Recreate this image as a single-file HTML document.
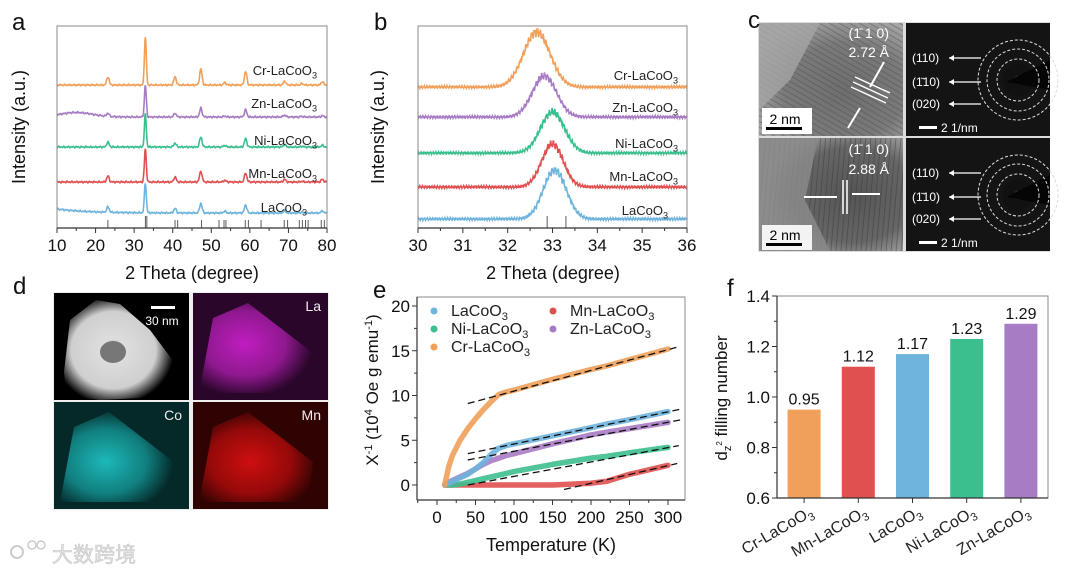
<!DOCTYPE html>
<html><head><meta charset="utf-8">
<style>
html,body{margin:0;padding:0;background:#fff;}
svg{display:block;font-family:"Liberation Sans","Noto Sans CJK SC",sans-serif;}
</style></head>
<body>
<svg id="fig" width="1080" height="575" viewBox="0 0 1080 575" xmlns="http://www.w3.org/2000/svg">
<defs>
<radialGradient id="gHR1" cx="0.6" cy="0.6" r="0.7"><stop offset="0" stop-color="#6e6e6e"/><stop offset="0.6" stop-color="#7a7a7a"/><stop offset="1" stop-color="#a8a8a8"/></radialGradient>
<radialGradient id="gHR2" cx="0.65" cy="0.5" r="0.6"><stop offset="0" stop-color="#555"/><stop offset="0.7" stop-color="#666"/><stop offset="1" stop-color="#999"/></radialGradient>
<pattern id="lat1" width="5" height="5" patternUnits="userSpaceOnUse" patternTransform="rotate(30)"><rect width="5" height="5" fill="none"/><line x1="0" y1="0" x2="5" y2="0" stroke="#444" stroke-width="1.5" opacity="0.5"/></pattern>
<pattern id="lat2" width="5" height="5" patternUnits="userSpaceOnUse" patternTransform="rotate(95)"><line x1="0" y1="0" x2="5" y2="0" stroke="#333" stroke-width="1.6" opacity="0.5"/></pattern>
<radialGradient id="gHAADF" cx="0.45" cy="0.5" r="0.55"><stop offset="0" stop-color="#888"/><stop offset="0.2" stop-color="#ddd"/><stop offset="0.7" stop-color="#cfcfcf"/><stop offset="1" stop-color="#000"/></radialGradient>
<radialGradient id="gLa" cx="0.4" cy="0.45" r="0.6"><stop offset="0" stop-color="#d020d0"/><stop offset="0.6" stop-color="#9a1a9a"/><stop offset="1" stop-color="#2a062a"/></radialGradient>
<radialGradient id="gCo" cx="0.4" cy="0.55" r="0.6"><stop offset="0" stop-color="#20c8c8"/><stop offset="0.6" stop-color="#128888"/><stop offset="1" stop-color="#052828"/></radialGradient>
<radialGradient id="gMn" cx="0.45" cy="0.55" r="0.6"><stop offset="0" stop-color="#e01010"/><stop offset="0.6" stop-color="#a00a0a"/><stop offset="1" stop-color="#300303"/></radialGradient>
<radialGradient id="gSAED" cx="0.5" cy="0.5" r="0.15"><stop offset="0" stop-color="#ddd"/><stop offset="1" stop-color="#111"/></radialGradient>
</defs>
<g id="root"></g>
</svg>
<script>
// ---------- data ----------
var xrdSamples = ["Cr-LaCoO3","Zn-LaCoO3","Ni-LaCoO3","Mn-LaCoO3","LaCoO3"];
var xrdPeakPos = [23.2, 32.9, 40.6, 47.3, 53.5, 58.9, 69.0, 73.5, 78.8];
var xrdPeakHtCr = [0.17, 1.0, 0.17, 0.33, 0.05, 0.28, 0.08, 0.03, 0.07];
var xrdPeakHtZn = [0.10, 1.0, 0.12, 0.27, 0.03, 0.22, 0.06, 0.02, 0.04];
var xrdPeakHtNi = [0.15, 1.0, 0.12, 0.30, 0.05, 0.25, 0.07, 0.02, 0.05];
var xrdPeakHtMn = [0.18, 1.0, 0.15, 0.33, 0.05, 0.27, 0.08, 0.02, 0.08];
var xrdPeakHtLa = [0.18, 1.0, 0.15, 0.32, 0.06, 0.27, 0.08, 0.03, 0.07];
var xrdRefLines = [23.2,32.9,33.3,40.6,41.3,47.5,52.0,53.3,53.8,58.8,59.6,62.9,68.9,69.8,72.8,73.6,74.4,75.1,78.5,79.3];
var xrdTicks = [10,20,30,40,50,60,70,80];

var bSamples = ["Cr-LaCoO3","Zn-LaCoO3","Ni-LaCoO3","Mn-LaCoO3","LaCoO3"];
var bCenter = [32.65, 32.82, 33.0, 33.0, 33.05];
var bHeight = [55, 41, 41, 43, 49];
var bWidth = [0.42, 0.38, 0.38, 0.34, 0.36];
var bTicks = [30,31,32,33,34,35,36];
var bRef = [32.88, 33.3];

var magT = [10,15,20,30,40,50,60,70,80,90,100,150,200,220,250,300];
var magCr = [0,2.0,3.3,5.0,6.3,7.4,8.4,9.3,10.1,10.4,10.6,11.8,12.9,13.3,14.0,15.2];
var magLa = [0,0.2,0.4,0.8,1.2,1.8,2.5,3.4,4.1,4.4,4.6,5.5,6.4,6.8,7.3,8.2];
var magZn = [0,0.3,0.5,0.9,1.3,1.8,2.3,2.7,3.0,3.3,3.5,4.6,5.6,5.9,6.3,7.0];
var magNi = [0,0,0,0.1,0.3,0.5,0.7,0.9,1.1,1.3,1.5,2.3,3.0,3.2,3.6,4.2];
var magMn = [0,0,0,0,0,0,0,0,0,0,0,0,0.2,0.4,1.2,2.2];
var magFits = [[40,9.1,312,15.4],[40,3.5,318,8.5],[40,2.8,318,7.3],[40,0.0,314,4.4],[165,-0.5,312,2.4]];
var magXTicks = [0,50,100,150,200,250,300];
var magYTicks = [0,5,10,15,20];

var fillCats = ["Cr-LaCoO3","Mn-LaCoO3","LaCoO3","Ni-LaCoO3","Zn-LaCoO3"];
var fillVals = [0.95, 1.12, 1.17, 1.23, 1.29];
var fillLabels = ["0.95","1.12","1.17","1.23","1.29"];
var fillYTicks = [0.6,0.8,1.0,1.2,1.4];

// ---------- helpers ----------
var NS = "http://www.w3.org/2000/svg";
var root = document.getElementById("root");
function mk(tag, attrs, parent){
  var e = document.createElementNS(NS, tag);
  for (var k in attrs) e.setAttribute(k, attrs[k]);
  (parent||root).appendChild(e);
  return e;
}
var C = {Cr:"#f0a05a", Zn:"#a87cc4", Ni:"#3cbf8e", Mn:"#e05050", La:"#6eb4dc"};
var colsA = [C.Cr, C.Zn, C.Ni, C.Mn, C.La];
function chemLabel(parent, x, y, name, size, anchor){
  var t = mk("text",{x:x,y:y,"font-size":size,"text-anchor":anchor||"start",fill:"#222"},parent);
  var base = name.replace(/3$/,"");
  var m = mk("tspan",{},t); m.textContent = base;
  var s = mk("tspan",{dy:(size*0.25).toFixed(1),"font-size":(size*0.7).toFixed(1)},t);
  s.textContent = "3";
  return t;
}
function letter(ch, x, y){
  var t = mk("text",{x:x,y:y,"font-size":24,fill:"#111"});
  t.textContent = ch;
  
  
}

// ---------- panel a ----------
(function(){
  var g = mk("g",{});
  
  
  var X0=57,X1=327,Y0=26,Y1=228;
  function sx(v){return X0+(v-10)/70*(X1-X0);}
  var base=[85,117,147,182,213];
  var amp=[48,32,33,33,30];
  var hts=[xrdPeakHtCr,xrdPeakHtZn,xrdPeakHtNi,xrdPeakHtMn,xrdPeakHtLa];
  for (var i=0;i<5;i++){
    var d="";
    for (var v=10; v<=80; v+=0.1){
      var y=base[i] - 0.5*Math.sin(v*53+i*2) - 0.4*Math.sin(v*131+i);
      if(i==1){ y -= 4.5*Math.exp(-Math.pow((v-15)/6,2)); }
      if(i==4){ y -= 4*Math.exp(-(v-10)/8); }
      for (var p=0;p<xrdPeakPos.length;p++){
        var w = p==1?0.35:0.45;
        y -= amp[i]*hts[i][p]*Math.exp(-Math.pow((v-xrdPeakPos[p])/w,2));
      }
      d += (d?"L":"M")+sx(v).toFixed(1)+","+y.toFixed(1);
    }
    var path = mk("path",{d:d,fill:"none",stroke:colsA[i],"stroke-width":1.6},g);
    
    
  }
  var lx=[317,317,317,317,307], ly=[75,108,145,178,212];
  for (var i=0;i<5;i++){
    var t=chemLabel(g,lx[i],ly[i],xrdSamples[i],13,"end");
    
    
  }
  for (var r=0;r<xrdRefLines.length;r++){
    var ln = mk("line",{x1:sx(xrdRefLines[r]),x2:sx(xrdRefLines[r]),y1:(xrdRefLines[r]<34&&xrdRefLines[r]>32?216:220),y2:Y1,stroke:"#333","stroke-width":0.8},g);
    
    
  }
  var box = mk("rect",{x:X0,y:Y0,width:X1-X0,height:Y1-Y0,fill:"none",stroke:"#888","stroke-width":1},g);
  
  
  mk("line",{x1:X0,x2:X1,y1:Y1,y2:Y1,stroke:"#333","stroke-width":1.2},g);
  for (var v=10; v<=80; v+=5){
    mk("line",{x1:sx(v),x2:sx(v),y1:Y1,y2:Y1+(v%10==0?5:3),stroke:"#333","stroke-width":1},g);
  }
  for (var k=0;k<xrdTicks.length;k++){
    var t=mk("text",{x:sx(xrdTicks[k]),y:251,"font-size":17,"text-anchor":"middle",fill:"#111"},g);
    t.textContent=xrdTicks[k];
    
    
  }
  var xt=mk("text",{x:192,y:279,"font-size":18,"text-anchor":"middle",fill:"#111"},g);
  xt.textContent="2 Theta (degree)";
  
  
  var yt=mk("text",{x:0,y:0,"font-size":18,"text-anchor":"middle",fill:"#111",transform:"translate(25,127) rotate(-90)"},g);
  yt.textContent="Intensity (a.u.)";
  
  
})();

// ---------- panel b ----------
(function(){
  var g = mk("g",{});
  
  
  var X0=418,X1=687,Y0=26,Y1=228;
  function sx(v){return X0+(v-30)/6*(X1-X0);}
  var base=[87,117,153,187,219];
  for (var i=0;i<5;i++){
    var d="";
    for (var v=30; v<=36; v+=0.01){
      var z=(v-bCenter[i])/bWidth[i];
      var pk=bHeight[i]*Math.exp(-z*z);
      var y=base[i]-pk - (0.7+pk*0.04)*Math.sin(v*97+i*3)-(0.6+pk*0.03)*Math.sin(v*211+i);
      d += (d?"L":"M")+sx(v).toFixed(1)+","+y.toFixed(1);
    }
    var path=mk("path",{d:d,fill:"none",stroke:colsA[i],"stroke-width":1.6},g);
    
    
  }
  var lx=[678,678,678,678,668], ly=[80,112,148,181,215];
  for (var i=0;i<5;i++){
    var t=chemLabel(g,lx[i],ly[i],bSamples[i],13,"end");
    
    
  }
  for (var r=0;r<bRef.length;r++){
    var ln=mk("line",{x1:sx(bRef[r]),x2:sx(bRef[r]),y1:216,y2:Y1,stroke:"#333","stroke-width":0.8},g);
    
    
  }
  var box=mk("rect",{x:X0,y:Y0,width:X1-X0,height:Y1-Y0,fill:"none",stroke:"#888","stroke-width":1},g);
  
  
  mk("line",{x1:X0,x2:X1,y1:Y1,y2:Y1,stroke:"#333","stroke-width":1.2},g);
  for (var v=30; v<=36; v+=0.5){
    mk("line",{x1:sx(v),x2:sx(v),y1:Y1,y2:Y1+(v%1==0?5:3),stroke:"#333","stroke-width":1},g);
  }
  for (var k=0;k<bTicks.length;k++){
    var t=mk("text",{x:sx(bTicks[k]),y:251,"font-size":17,"text-anchor":"middle",fill:"#111"},g);
    t.textContent=bTicks[k];
    
    
  }
  var xt=mk("text",{x:553,y:279,"font-size":18,"text-anchor":"middle",fill:"#111"},g);
  xt.textContent="2 Theta (degree)";
  
  
  var yt=mk("text",{x:0,y:0,"font-size":18,"text-anchor":"middle",fill:"#111",transform:"translate(384,127) rotate(-90)"},g);
  yt.textContent="Intensity (a.u.)";
  
  
})();

// ---------- panel c ----------
(function(){
  var g = mk("g",{});
  
  
  mk("rect",{x:758,y:22,width:292,height:230,fill:"#ddd"},g);
  var panels=[[759,23,144,113],[759,138,144,113]];
  for (var i=0;i<2;i++){
    var p=panels[i];
    var r=mk("rect",{x:p[0],y:p[1],width:p[2],height:p[3],fill:i?"url(#gHR2)":"url(#gHR1)"},g);
    
    
    mk("rect",{x:p[0],y:p[1],width:p[2],height:p[3],fill:i?"url(#lat2)":"url(#lat1)"},g);
  }
  mk("polygon",{points:"759,23 820,23 790,80 759,110",fill:"#a5a5a5",opacity:0.8},g);
  mk("polygon",{points:"759,138 818,138 805,200 830,251 759,251",fill:"#8a8a8a",opacity:0.85},g);
  var texts=[["(1\u0304 1 0)",889,38],["2.72 Å",889,57],["(1\u0304 1 0)",889,154],["2.88 Å",889,174]];
  for (var k=0;k<texts.length;k++){
    var t=mk("text",{x:texts[k][1],y:texts[k][2],"font-size":14,"text-anchor":"end",fill:"#fff"},g);
    t.textContent=texts[k][0];
    
    
  }
  mk("path",{d:"M851,87 L886,103 M853,82 L888,98 M855,77 L890,93",stroke:"#fff","stroke-width":1.5},g);
  mk("path",{d:"M884,62 L870,87 M848,128 L860,108",stroke:"#fff","stroke-width":2},g);
  mk("path",{d:"M843,180 L843,214 M847,180 L847,214",stroke:"#fff","stroke-width":1.5},g);
  mk("path",{d:"M804,197 L837,197 M880,194 L852,194",stroke:"#fff","stroke-width":2},g);
  mk("rect",{x:762,y:108,width:50,height:26,fill:"#fff"},g);
  mk("rect",{x:762,y:225,width:50,height:25,fill:"#fff",opacity:0.9},g);
  var sb=[[785,124,"2 nm"],[785,240,"2 nm"]];
  for (var k=0;k<2;k++){
    var t=mk("text",{x:sb[k][0],y:sb[k][1],"font-size":14,"text-anchor":"middle",fill:"#000"},g);
    t.textContent=sb[k][2];
    
    
    mk("rect",{x:766,y:sb[k][1]+3,width:36,height:3,fill:"#000"},g);
  }
  var sp=[[906,23,144,113],[906,138,144,113]];
  for (var i=0;i<2;i++){
    var p=sp[i];
    var r=mk("rect",{x:p[0],y:p[1],width:p[2],height:p[3],fill:"#141414"},g);
    
    
    var cx=p[0]+112, cy=p[1]+57;
    mk("circle",{cx:cx,cy:cy,r:16,fill:"url(#gSAED)"},g);
    mk("polygon",{points:(cx-12)+","+(cy+2)+" "+(p[0]+144)+","+(cy-20)+" "+(p[0]+144)+","+(cy+10),fill:"#050505"},g);
    [21,31,40].forEach(function(rr){
      mk("circle",{cx:cx,cy:cy,r:rr,fill:"none",stroke:"#ddd","stroke-width":1,"stroke-dasharray":"3,2"},g);
    });
    var lab=["(110)","(\u0031\u030410)","(020)"];
    var ys=[p[1]+39,p[1]+63,p[1]+85];
    for (var k=0;k<3;k++){
      var t=mk("text",{x:p[0]+6,y:ys[k],"font-size":12,fill:"#fff"},g);
      t.textContent=lab[k];
      
      
      mk("line",{x1:p[0]+43,x2:p[0]+75,y1:ys[k]-4,y2:ys[k]-4,stroke:"#fff","stroke-width":1.2},g);
      mk("path",{d:"M"+(p[0]+43)+","+(ys[k]-4)+" l5,-3 l0,6 z",fill:"#fff"},g);
    }
    mk("rect",{x:p[0]+13,y:p[1]+103,width:18,height:3,fill:"#fff"},g);
    var t2=mk("text",{x:p[0]+35,y:p[1]+109,"font-size":12,fill:"#fff"},g);
    t2.textContent="2 1/nm";
    
    
  }
})();

// ---------- panel d ----------
(function(){
  var g = mk("g",{});
  
  
  mk("rect",{x:53,y:292,width:276,height:218,fill:"#eee"},g);
  var tiles=[[54,293,"#000","HAADF"],[193,293,"url(#gLa)","La"],[54,402,"url(#gCo)","Co"],[193,402,"url(#gMn)","Mn"]];
  var bg=["#000","#2a062a","#052828","#300303"];
  for (var i=0;i<4;i++){
    var t=tiles[i];
    var r=mk("rect",{x:t[0],y:t[1],width:135,height:107,fill:bg[i]},g);
    
    
    if(i==0){
      mk("path",{d:"M64,372 L70,320 L96,300 L120,304 L150,330 L174,362 L168,390 L140,398 L100,400 L66,396 Z",fill:"url(#gHAADF)"},g);
      mk("ellipse",{cx:113,cy:352,rx:13,ry:11,fill:"#777"},g);
    } else {
      mk("path",{d:"M"+(t[0]+6)+","+(t[1]+100)+" L"+(t[0]+20)+","+(t[1]+25)+" L"+(t[0]+55)+","+(t[1]+10)+" L"+(t[0]+120)+","+(t[1]+60)+" L"+(t[0]+115)+","+(t[1]+100)+" Z",fill:t[2],opacity:0.9},g);
      var lb=mk("text",{x:t[0]+128,y:t[1]+18,"font-size":14,"text-anchor":"end",fill:"#eee"},g);
      lb.textContent=t[3];
      
      
    }
  }
  mk("rect",{x:151,y:306,width:24,height:3,fill:"#fff"},g);
  var s=mk("text",{x:162,y:325,"font-size":12,"text-anchor":"middle",fill:"#fff"},g);
  s.textContent="30 nm";
  
  
})();

// ---------- panel e ----------
(function(){
  var g = mk("g",{});
  
  
  var X0=417,X1=685,Y0=297,Y1=500;
  function sx(v){return 437+v/300*(668-437);}
  function sy(v){return 485-v/20*(485-306);}
  var series=[["Cr",magCr,C.Cr],["La",magLa,C.La],["Zn",magZn,C.Zn],["Ni",magNi,C.Ni],["Mn",magMn,C.Mn]];
  var order=[4,3,2,1,0];
  for (var o=0;o<order.length;o++){
    var s=series[order[o]];
    var d="";
    for (var i=0;i<magT.length;i++) d+=(i?"L":"M")+sx(magT[i]).toFixed(1)+","+sy(s[1][i]).toFixed(1);
    var p=mk("path",{d:d,fill:"none",stroke:s[2],"stroke-width":5.5,"stroke-linejoin":"round","stroke-linecap":"round",opacity:0.9},g);
    
    
  }
  for (var f=0;f<magFits.length;f++){
    var m=magFits[f];
    var l=mk("line",{x1:sx(m[0]),y1:sy(m[1]),x2:sx(m[2]),y2:sy(m[3]),stroke:"#111","stroke-width":1.3,"stroke-dasharray":"7,4"},g);
    
    
  }
  var box=mk("rect",{x:X0,y:Y0,width:X1-X0,height:Y1-Y0,fill:"none",stroke:"#888","stroke-width":1},g);
  
  
  mk("line",{x1:X0,x2:X1,y1:Y1,y2:Y1,stroke:"#333","stroke-width":1.2},g);
  mk("line",{x1:X0,x2:X0,y1:Y0,y2:Y1,stroke:"#333","stroke-width":1.2},g);
  for (var v=-25; v<=325; v+=25){
    var xx=sx(v); if(xx<X0||xx>X1) continue;
    mk("line",{x1:xx,x2:xx,y1:Y1,y2:Y1+(v%50==0?5:3),stroke:"#333","stroke-width":1},g);
  }
  for (var v=0; v<=20; v+=2.5){
    mk("line",{x1:X0,x2:X0-(v%5==0?5:3),y1:sy(v),y2:sy(v),stroke:"#333","stroke-width":1},g);
  }
  for (var k=0;k<magXTicks.length;k++){
    var t=mk("text",{x:sx(magXTicks[k]),y:523,"font-size":17,"text-anchor":"middle",fill:"#111"},g);
    t.textContent=magXTicks[k];
    
    
  }
  for (var k=0;k<magYTicks.length;k++){
    var t=mk("text",{x:410,y:sy(magYTicks[k])+6,"font-size":17,"text-anchor":"end",fill:"#111"},g);
    t.textContent=magYTicks[k];
    
    
  }
  var xt=mk("text",{x:551,y:551,"font-size":18,"text-anchor":"middle",fill:"#111"},g);
  xt.textContent="Temperature (K)";
  
  
  var yt=mk("text",{x:0,y:0,"font-size":17,"text-anchor":"middle",fill:"#111",transform:"translate(378,390) rotate(-90)"},g);
  var parts=[["X",0,17],["-1",-6,11],[" (10",6,17],["4",-6,11],[" Oe g emu",6,17],["-1",-6,11],[")",6,17]];
  for (var k=0;k<parts.length;k++){
    var sp=mk("tspan",{dy:parts[k][1],"font-size":parts[k][2]},yt);
    sp.textContent=parts[k][0];
  }
  
  
  var leg=[["LaCoO3",C.La,434,311],["Mn-LaCoO3",C.Mn,553,311],["Ni-LaCoO3",C.Ni,434,329],["Zn-LaCoO3",C.Zn,553,329],["Cr-LaCoO3",C.Cr,434,347]];
  for (var k=0;k<leg.length;k++){
    var L=leg[k];
    var cc=mk("circle",{cx:L[2],cy:L[3],r:3.5,fill:L[1]},g);
    
    
    var t=chemLabel(g,L[2]+17,L[3]+5,L[0],16,"start");
    
    
  }
})();

// ---------- panel f ----------
(function(){
  var g = mk("g",{});
  
  
  var X0=777,X1=1048,Y0=296,Y1=498;
  function sy(v){return Y1-(v-0.6)/0.8*(Y1-Y0);}
  var bw=(X1-X0)/5, cols=[C.Cr,C.Mn,C.La,C.Ni,C.Zn];
  for (var i=0;i<fillVals.length;i++){
    var cx=X0+bw*(i+0.5);
    var r=mk("rect",{x:cx-16.5,y:sy(fillVals[i]),width:33,height:Y1-sy(fillVals[i]),fill:cols[i]},g);
    
    
    var t=mk("text",{x:cx,y:sy(fillVals[i])-5,"font-size":16,"text-anchor":"middle",fill:"#111"},g);
    t.textContent=fillLabels[i];
    
    
    mk("line",{x1:cx,x2:cx,y1:Y1,y2:Y1+5,stroke:"#333","stroke-width":1},g);
    var lb=chemLabel(g,0,0,fillCats[i],16,"end");
    lb.setAttribute("transform","translate("+(cx+10)+","+(Y1+17)+") rotate(-30)");
    
    
  }
  var box=mk("rect",{x:X0,y:Y0,width:X1-X0,height:Y1-Y0,fill:"none",stroke:"#888","stroke-width":1},g);
  
  
  mk("line",{x1:X0,x2:X1,y1:Y1,y2:Y1,stroke:"#333","stroke-width":1.2},g);
  mk("line",{x1:X0,x2:X0,y1:Y0,y2:Y1,stroke:"#333","stroke-width":1.2},g);
  for (var v=0.6; v<=1.401; v+=0.1){
    var major=Math.round(v*10)%2==0;
    mk("line",{x1:X0,x2:X0-(major?5:3),y1:sy(v),y2:sy(v),stroke:"#333","stroke-width":1},g);
  }
  for (var k=0;k<fillYTicks.length;k++){
    var t=mk("text",{x:770,y:sy(fillYTicks[k])+6,"font-size":17,"text-anchor":"end",fill:"#111"},g);
    t.textContent=fillYTicks[k].toFixed(1);
    
    
  }
  var yt=mk("text",{x:0,y:0,"font-size":17,"text-anchor":"middle",fill:"#111",transform:"translate(727,398) rotate(-90)"},g);
  var parts=[["d",0,17],["z",4,11],["2",-9,8],[" filling number",5,17]];
  for (var k=0;k<parts.length;k++){
    var sp=mk("tspan",{dy:parts[k][1],"font-size":parts[k][2]},yt);
    sp.textContent=parts[k][0];
  }
  
  
})();

// ---------- letters & watermark ----------
letter("a",12,30); letter("b",374,30); letter("c",748,28);
letter("d",13,294); letter("e",373,298); letter("f",727,296);
(function(){
  var g=mk("g",{});
  
  
  mk("circle",{cx:17,cy:552,r:6,fill:"none",stroke:"#ccc","stroke-width":2},g);
  mk("circle",{cx:32,cy:545,r:4,fill:"none",stroke:"#ccc","stroke-width":1.5},g);
  mk("circle",{cx:41,cy:545,r:4,fill:"none",stroke:"#ccc","stroke-width":1.5},g);
  var t=mk("text",{x:52,y:562,"font-size":21,fill:"#e0e0e0",stroke:"#c8c8c8","stroke-width":0.6},g);
  t.textContent="大数跨境";
  
  
})();
</script>
</body></html>
